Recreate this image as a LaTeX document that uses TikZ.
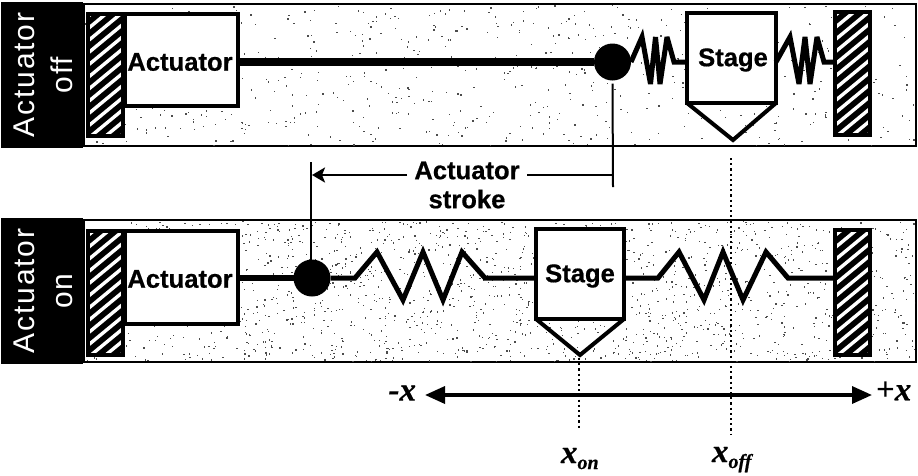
\documentclass[tikz,border=0pt]{standalone}
\usepackage{fontspec}
\setmainfont{Liberation Sans}
\newfontfamily\heavyf[BoldFeatures={FakeBold=0.6}]{Liberation Sans}
\newfontfamily\tmf[BoldItalicFeatures={FakeBold=0.5}]{Liberation Serif}
\newfontfamily\lblf[LetterSpace=6]{Liberation Sans}
\usetikzlibrary{arrows.meta,calc}
\tikzset{
  every node/.style={outer sep=0pt},
  panel/.style={draw=black,line width=2pt,fill=white},
  tabbox/.style={fill=black,inner sep=0pt},
  whitebox/.style={draw=black,line width=4pt,fill=white,inner sep=0pt},
  wallbox/.style={draw=black,line width=4pt,fill=black,inner sep=0pt},
  ballnode/.style={circle,fill=black,minimum size=37pt,inner sep=0pt},
  boxtext/.style={font=\heavyf\fontsize{25.6}{25.6}\selectfont\bfseries,inner sep=0pt},
  rod/.style={line width=8.5pt},
  rodthin/.style={line width=6.5pt},
  spring/.style={line width=5pt,line join=miter,miter limit=4},
  guide/.style={line width=2pt},
  dotline/.style={line width=2.2pt,dash pattern=on 2.2pt off 3pt},
  axisline/.style={line width=3.4pt,{Triangle[length=20pt,width=17pt]}-{Triangle[length=20pt,width=17pt]}},
  strokearrow/.style={line width=2.6pt,-{Stealth[inset=3pt,length=13pt,width=15pt]}},
  sidelabel/.style={text=white,rotate=90,align=center,inner sep=0pt,font=\fontsize{30}{38}\selectfont\lblf},
  caption/.style={font=\heavyf\fontsize{25.6}{29}\selectfont\bfseries,align=center,inner sep=0pt},
  mathlabel/.style={font=\tmf\fontsize{33}{33}\selectfont\bfseries\itshape,inner sep=0pt},
}
\newcommand{\subtxt}[1]{\raisebox{-6pt}{\fontsize{20}{20}\selectfont #1}}
\newcommand{\hatchwall}[1]{%
  \begin{scope}
    \clip (#1.south west) rectangle (#1.north east);
    \foreach \k in {-2,...,14}{
      \draw[white,line width=3.4pt]
        ($(#1.south west)+(-4,{-\k*12.2+18})$) -- ++(46,-38);
    }
  \end{scope}
  \draw[black,line width=4pt] (#1.south west) rectangle (#1.north east);
}
\begin{document}
\begin{tikzpicture}[x=1pt,y=-1pt]
\useasboundingbox (0,0) rectangle (918,475);
% panels
\node[panel,minimum width=832pt,minimum height=142pt,anchor=north west] (panA) at (84,4) {};
\node[panel,minimum width=832pt,minimum height=142pt,anchor=north west] (panB) at (84,220) {};
% speckle
\pgfmathsetseed{7}
\begin{scope}
\clip (85,5) rectangle (915,145);
\foreach \i in {1,...,650}{
  \pgfmathsetmacro\px{85+rnd*830}\pgfmathsetmacro\py{5+rnd*140}
  \fill[black!70] (\px,\py) rectangle ++(1.3,1.3);
}
\end{scope}
\begin{scope}
\clip (85,221) rectangle (915,361);
\foreach \i in {1,...,1700}{
  \pgfmathsetmacro\px{85+rnd*830}\pgfmathsetmacro\py{221+rnd*140}
  \fill[black!70] (\px,\py) rectangle ++(1.3,1.3);
}
\end{scope}
% side tabs
\node[tabbox,minimum width=82pt,minimum height=146pt,anchor=north west] (tabA) at (1,2) {};
\node[tabbox,minimum width=82pt,minimum height=146pt,anchor=north west] (tabB) at (1,218) {};
\node[sidelabel] (lblA) at (43,75) {Actuator\\off};
\node[sidelabel] (lblB) at (43,291) {Actuator\\on};
% walls
\node[wallbox,minimum width=35pt,minimum height=122pt,anchor=north west] (wallAL) at (88,14) {};
\node[wallbox,minimum width=35pt,minimum height=123pt,anchor=north west] (wallAR) at (835,12) {};
\node[wallbox,minimum width=35pt,minimum height=124pt,anchor=north west] (wallBL) at (88,231) {};
\node[wallbox,minimum width=35pt,minimum height=125pt,anchor=north west] (wallBR) at (835,230) {};
\hatchwall{wallAL}\hatchwall{wallAR}\hatchwall{wallBL}\hatchwall{wallBR}
% top row
\node[ballnode] (ballA) at (612.5,62) {};
\node[whitebox,minimum width=113pt,minimum height=92pt,anchor=north west] (actA) at (125,14) {};
\node[boxtext] (actAtxt) at (180,62) {Actuator};
\node[whitebox,minimum width=89pt,minimum height=90pt,anchor=north west] (stA) at (687,13) {};
\node[boxtext] (stAtxt) at (733,60) {Stage};
\coordinate (tipA) at (733,140);
\draw[line width=4pt,line join=miter] (stA.south west) -- (tipA) -- (stA.south east);
\draw[rod] (actA.east |- ballA) -- (ballA);
\draw[spring] (ballA.east) -- (642,37) -- (650.5,84) -- (655.5,37) -- (660,84) -- (667,37) -- (674,62) -- (stA.west |- ballA);
\draw[spring] (stA.east |- ballA) -- (790,37) -- (799,84) -- (805,37) -- (810,84) -- (817,37) -- (824,62) -- (wallAR.west |- ballA);
% bottom row
\node[ballnode] (ballB) at (312,278) {};
\node[whitebox,minimum width=113pt,minimum height=93pt,anchor=north west] (actB) at (125,231) {};
\node[boxtext] (actBtxt) at (180,279) {Actuator};
\node[whitebox,minimum width=88pt,minimum height=90pt,anchor=north west] (stB) at (536,229) {};
\node[boxtext] (stBtxt) at (580,276) {Stage};
\coordinate (tipB) at (580,355);
\draw[line width=4pt,line join=miter] (stB.south west) -- (tipB) -- (stB.south east);
\draw[rodthin] (actB.east |- ballB) -- (ballB);
\draw[spring] (ballB.east) -- (355,278) -- (377,252) -- (403,300) -- (423,252) -- (443,300) -- (462,252) -- (485,278) -- (stB.west |- ballB);
\draw[spring] (stB.east |- ballB) -- (658,278) -- (679,252) -- (704,300) -- (723,252) -- (743,300) -- (766,252) -- (788,278) -- (wallBR.west |- ballB);
% actuator stroke
\coordinate (strokeL) at (311,162);
\coordinate (strokeR) at (613,187);
\draw[guide] (strokeL) -- (ballB.north -| strokeL);
\draw[guide] (ballA.south) ++(0,3) -- (strokeR);
\node[caption] (cap) at (467,185) {Actuator\\stroke};
\coordinate (stL) at (312,175);
\coordinate (stR) at (613,175);
\draw[strokearrow] (407,175) -- (stL);
\draw[line width=2.6pt] (527,175) -- (stR);
% position axis
\coordinate (axL) at (425,395);
\coordinate (axR) at (872,395);
\draw[axisline] (axL) -- (axR);
\node[mathlabel,anchor=east] (mx) at (416,393) {-x};
\node[mathlabel,anchor=west,font=\tmf\fontsize{33}{33}\selectfont\bfseries] (px) at (876,391) {+\textit{x}};
% dotted
\draw[dotline] (tipA) ++(-2,18) -- (731,434);
\draw[dotline] (tipB) ++(-1,3) -- (579,430);
\node[mathlabel,anchor=base west] (xon) at (561,463) {x\subtxt{on}};
\node[mathlabel,anchor=base west] (xoff) at (712,462) {x\subtxt{off}};
\end{tikzpicture}
\end{document}
